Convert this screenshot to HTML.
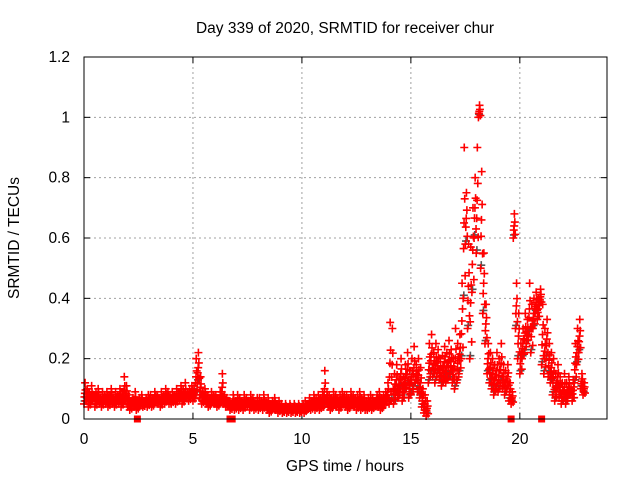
<!DOCTYPE html>
<html><head><meta charset="utf-8"><style>
body{margin:0;background:#fff}
svg{display:block;font-family:"Liberation Sans","DejaVu Sans",sans-serif}
</style></head><body>
<svg id="c" width="640" height="480">
<text x="345" y="33" font-size="15.5" text-anchor="middle">Day 339 of 2020, SRMTID for receiver chur</text>
<text x="345" y="471" font-size="15.5" text-anchor="middle">GPS time / hours</text>
<text x="0" y="0" font-size="15.5" text-anchor="middle" transform="translate(19,238) rotate(-90)">SRMTID / TECUs</text>
<g id="grid"></g>
<g id="ticks"></g>
<g id="marks"></g>
<rect x="84" y="57" width="523" height="362" fill="none" stroke="#000" stroke-width="1"/>
</svg>
<script>
const xTicks=[0,5,10,15,20];
const yTicks=[0,0.2,0.4,0.6,0.8,1,1.2];
const yTickLabels=["0","0.2","0.4","0.6","0.8","1","1.2"];
const times=[0,0.1,0.2,0.3,0.4,0.5,0.6,0.7,0.8,0.9,1,1.1,1.2,1.3,1.4,1.5,1.6,1.7,1.8,1.9,2,2.1,2.2,2.3,2.4,2.5,2.6,2.7,2.8,2.9,3,3.1,3.2,3.3,3.4,3.5,3.6,3.7,3.8,3.9,4,4.1,4.2,4.3,4.4,4.5,4.6,4.7,4.8,4.9,5,5.1,5.2,5.3,5.4,5.5,5.6,5.7,5.8,5.9,6,6.1,6.2,6.3,6.4,6.5,6.6,6.7,6.8,6.9,7,7.1,7.2,7.3,7.4,7.5,7.6,7.7,7.8,7.9,8,8.1,8.2,8.3,8.4,8.5,8.6,8.7,8.8,8.9,9,9.1,9.2,9.3,9.4,9.5,9.6,9.7,9.8,9.9,10,10.1,10.2,10.3,10.4,10.5,10.6,10.7,10.8,10.9,11,11.1,11.2,11.3,11.4,11.5,11.6,11.7,11.8,11.9,12,12.1,12.2,12.3,12.4,12.5,12.6,12.7,12.8,12.9,13,13.1,13.2,13.3,13.4,13.5,13.6,13.7,13.8,13.9,14,14.1,14.2,14.3,14.4,14.5,14.6,14.7,14.8,14.9,15,15.1,15.2,15.3,15.4,15.5,15.6,15.7,15.8,15.9,16,16.1,16.2,16.3,16.4,16.5,16.6,16.7,16.8,16.9,17,17.1,17.2,17.3,17.4,17.5,17.6,17.7,17.8,17.9,18,18.1,18.2,18.3,18.4,18.5,18.6,18.7,18.8,18.9,19,19.1,19.2,19.3,19.4,19.5,19.6,19.7,19.8,19.9,20,20.1,20.2,20.3,20.4,20.5,20.6,20.7,20.8,20.9,21,21.1,21.2,21.3,21.4,21.5,21.6,21.7,21.8,21.9,22,22.1,22.2,22.3,22.4,22.5,22.6,22.7,22.8,22.9];
const seriesLow=[.05,.06,.04,.05,.07,.04,.06,.05,.04,.06,
.05,.04,.06,.05,.04,.06,.05,.04,.05,.06,
.04,.03,.05,.04,.03,.04,.05,.04,.05,.04,
.05,.04,.05,.06,.05,.04,.06,.05,.06,.05,
.05,.06,.05,.06,.07,.05,.06,.07,.06,.07,
.06,.08,.12,.07,.05,.06,.05,.04,.05,.06,
.05,.04,.05,.06,.05,.04,.05,.03,.04,.03,
.04,.03,.04,.03,.04,.05,.03,.04,.03,.04,
.03,.04,.03,.04,.03,.02,.03,.04,.03,.02,
.03,.02,.03,.02,.03,.02,.03,.02,.03,.02,
.03,.02,.03,.04,.03,.04,.03,.04,.03,.04,
.04,.05,.04,.03,.04,.05,.04,.03,.04,.05,
.04,.03,.04,.05,.04,.03,.04,.03,.04,.03,
.03,.04,.03,.04,.05,.04,.03,.04,.05,.06,
.05,.06,.05,.08,.07,.10,.06,.09,.11,.07,
.08,.10,.12,.09,.07,.04,.02,.01,.12,.15,
.14,.12,.15,.13,.11,.14,.12,.13,.15,.12,
.10,.12,.15,.20,.40,.58,.30,.20,.42,.60,
.55,1.00,.50,.35,.25,.15,.12,.10,.08,.10,
.09,.12,.10,.08,.10,.06,.05,.60,.30,.20,
.15,.20,.22,.25,.28,.22,.30,.35,.33,.38,
.18,.15,.20,.14,.12,.08,.06,.10,.07,.05,
.06,.05,.07,.08,.06,.12,.18,.22,.10,.08];
const seriesHigh=[.12,.10,.09,.11,.08,.09,.10,.07,.09,.08,
.09,.08,.10,.07,.09,.08,.10,.09,.14,.11,
.08,.06,.07,.09,.06,.07,.08,.06,.07,.08,
.08,.07,.09,.08,.07,.09,.08,.10,.09,.08,
.09,.08,.10,.09,.11,.10,.12,.09,.10,.11,
.11,.20,.22,.14,.09,.10,.08,.07,.09,.08,
.08,.07,.09,.15,.08,.07,.06,.05,.08,.06,
.08,.07,.06,.08,.07,.06,.08,.07,.06,.07,
.07,.06,.08,.06,.07,.05,.06,.07,.05,.06,
.05,.04,.05,.04,.05,.04,.05,.04,.05,.04,
.05,.06,.05,.07,.06,.08,.07,.08,.07,.09,
.16,.09,.08,.07,.09,.08,.07,.08,.09,.08,
.08,.07,.09,.08,.07,.08,.09,.07,.08,.06,
.07,.08,.07,.06,.08,.09,.07,.08,.09,.12,
.32,.30,.15,.18,.13,.20,.14,.18,.22,.16,
.20,.24,.18,.20,.17,.10,.08,.06,.25,.28,
.22,.25,.23,.20,.21,.24,.22,.26,.23,.20,
.30,.25,.28,.45,.90,.75,.58,.57,.70,.80,
.90,1.04,.82,.55,.38,.25,.22,.20,.18,.22,
.20,.25,.18,.16,.18,.12,.09,.68,.45,.35,
.25,.30,.35,.33,.45,.38,.40,.42,.40,.43,
.38,.30,.33,.25,.22,.20,.15,.18,.14,.12,
.15,.12,.14,.10,.13,.25,.30,.33,.15,.12];
const gapTimes=[2.45,6.7,6.8,19.6,21.0];

const X0=84,X1=607,Y0=419,Y1=57;
const xs=t=>X0+t/24*(X1-X0);
const ys=v=>Y0-v/1.2*(Y0-Y1);
const NS="http://www.w3.org/2000/svg";
function mk(tag,attrs,parent){const e=document.createElementNS(NS,tag);for(const k in attrs)e.setAttribute(k,attrs[k]);parent.appendChild(e);return e;}
const grid=document.getElementById('grid'),ticks=document.getElementById('ticks'),marks=document.getElementById('marks');
xTicks.forEach(t=>{const x=xs(t);
 if(t>0){const g=mk('line',{x1:x,x2:x,y1:Y0,y2:Y1,stroke:'#a0a0a0','stroke-dasharray':'2,3'},grid);
 
 }
 mk('line',{x1:x,x2:x,y1:Y0,y2:Y0-6,stroke:'#000'},ticks);
 mk('line',{x1:x,x2:x,y1:Y1,y2:Y1+6,stroke:'#000'},ticks);
 const l=mk('text',{x:x,y:Y0+25,'font-size':15.5,'text-anchor':'middle'},ticks);l.textContent=t;
 
 
});
yTicks.forEach((v,i)=>{const y=ys(v);
 if(v>0&&v<1.2){const g=mk('line',{x1:X0,x2:X1,y1:y,y2:y,stroke:'#a0a0a0','stroke-dasharray':'2,3'},grid);
 
 }
 mk('line',{x1:X0,x2:X0+6,y1:y,y2:y,stroke:'#000'},ticks);
 mk('line',{x1:X1,x2:X1-6,y1:y,y2:y,stroke:'#000'},ticks);
 const l=mk('text',{x:X0-14,y:y+5,'font-size':15.5,'text-anchor':'end'},ticks);l.textContent=yTickLabels[i];
 
 
});
function plus(t,v,col){const x=xs(t),y=ys(v);
 const p=mk('path',{d:`M${x-4} ${y}h8M${x} ${y-4}v8`,stroke:col,'stroke-width':1.6,fill:'none'},marks);
 
 }
times.forEach((t,i)=>{plus(t+0.03,seriesLow[i]+0.01,'#555');});
times.forEach((t,i)=>{
 const lo=seriesLow[i],hi=seriesHigh[i],d=hi-lo;
 plus(t,lo,'#f00');plus(t+0.05,hi,'#f00');
 plus(t+0.02,lo+d*0.33,'#f00');plus(t+0.07,lo+d*0.66,'#f00');
 plus(t+0.04,lo+d*0.5,'#f00');plus(t+0.09,lo+d*0.15,'#f00');
});
gapTimes.forEach(t=>{const r=mk('rect',{x:xs(t)-3.5,y:Y0-3.5,width:7,height:7,fill:'#f00'},marks);
 
 });
</script>
</body></html>
